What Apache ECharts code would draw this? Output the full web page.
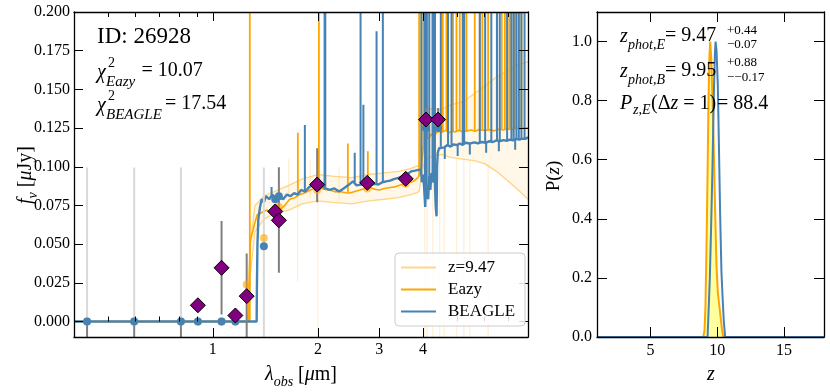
<!DOCTYPE html>
<html><head><meta charset="utf-8">
<script src="https://cdn.jsdelivr.net/npm/echarts@6/dist/echarts.min.js"></script>
<style>html,body{margin:0;padding:0;background:#fff}#c{width:830px;height:392px}</style>
</head><body><div id="c"></div>
<script>
// ---------------- DATA (wavelength in micron, flux in microJy) ----------------
const xMajorTicks = [1, 2, 3, 4];
const xMinorTicks = [0.4, 0.5, 0.6, 0.7, 0.8, 0.9, 5, 6, 7, 8];
const yTicks = [0, 0.025, 0.05, 0.075, 0.1, 0.125, 0.15, 0.175, 0.2];
const pzXTicks = [5, 10, 15];
const pzYTicks = [0, 0.2, 0.4, 0.6, 0.8, 1.0];

// BEAGLE model continuum
const beagleCont = [[0.40,0],[1.335,0],[1.337,0.02],[1.342,0.05],[1.35,0.066],[1.365,0.074],[1.38,0.079],[1.40,0.077],[1.42,0.081],[1.45,0.079],[1.48,0.082],[1.51,0.08],[1.55,0.081],[1.59,0.079],[1.63,0.082],[1.67,0.081],[1.71,0.083],[1.75,0.082],[1.79,0.085],[1.84,0.084],[1.89,0.087],[1.94,0.088],[1.99,0.086],[2.04,0.088],[2.10,0.086],[2.16,0.085],[2.23,0.086],[2.30,0.084],[2.37,0.086],[2.44,0.088],[2.52,0.0906],[2.58,0.088],[2.66,0.0885],[2.74,0.09],[2.82,0.088],[2.90,0.089],[2.98,0.0885],[3.06,0.09],[3.14,0.0906],[3.22,0.091],[3.30,0.092],[3.40,0.0928],[3.50,0.094],[3.60,0.095],[3.70,0.097],[3.80,0.0975],[3.88,0.098],[3.95,0.098],[3.97,0.09],[4.00,0.095],[4.03,0.087],[4.06,0.074],[4.08,0.09],[4.11,0.082],[4.14,0.079],[4.17,0.094],[4.20,0.085],[4.23,0.096],[4.26,0.09],[4.29,0.103],[4.32,0.095],[4.35,0.075],[4.375,0.068],[4.39,0.1],[4.41,0.109],[4.45,0.112],[4.50,0.113],[4.6,0.1125],[4.7,0.114],[4.8,0.113],[4.9,0.1145],[5.0,0.114],[5.1,0.115],[5.2,0.1142],[5.3,0.1155],[5.45,0.115],[5.6,0.1158],[5.75,0.1152],[5.9,0.116],[6.05,0.1155],[6.2,0.1165],[6.35,0.116],[6.5,0.117],[6.65,0.1165],[6.8,0.1172],[6.95,0.1168],[7.1,0.1175],[7.25,0.117],[7.4,0.118],[7.55,0.1175],[7.7,0.1182],[7.85,0.118],[8.0,0.119]];
// BEAGLE emission / absorption lines: [lambda, base, tip]
const beagleLines = [[1.473,0.08,0.087],[1.835,0.085,0.127],[2.09,0.087,0.2],[2.10,0.087,0.2],[2.55,0.09,0.109],[2.65,0.088,0.2],[2.70,0.0885,0.14],[2.945,0.0885,0.1875],[3.07,0.09,0.2],[3.96,0.098,0.2],[4.05,0.087,0.2],[4.10,0.085,0.2],[4.17,0.094,0.2],[4.26,0.09,0.2],[4.28,0.1,0.2],[4.33,0.095,0.2],[4.50,0.113,0.2],[4.72,0.114,0.2],[4.83,0.113,0.2],[5.20,0.1142,0.2],[5.25,0.1145,0.2],[5.82,0.1155,0.2],[6.03,0.1155,0.2],[6.28,0.116,0.2],[6.52,0.117,0.2],[6.64,0.1165,0.2],[6.97,0.1168,0.2],[7.17,0.1175,0.2],[7.28,0.117,0.2],[7.41,0.118,0.2],[7.53,0.1175,0.2],[7.66,0.1182,0.2],[7.82,0.118,0.2],[4.62,0.1125,0.105],[5.03,0.114,0.107],[5.45,0.115,0.108],[6.07,0.1155,0.109],[6.6,0.1165,0.11],[7.35,0.1175,0.111]];

// Eazy model continuum
const eazyCont = [[0.40,0],[1.268,0],[1.272,0.03],[1.28,0.052],[1.30,0.058],[1.32,0.064],[1.34,0.069],[1.38,0.0704],[1.43,0.072],[1.47,0.0705],[1.505,0.074],[1.55,0.072],[1.6,0.0745],[1.66,0.079],[1.72,0.08],[1.77,0.082],[1.83,0.083],[1.9,0.085],[1.99,0.0866],[2.08,0.0855],[2.16,0.085],[2.24,0.0838],[2.31,0.084],[2.4,0.0832],[2.47,0.083],[2.55,0.084],[2.64,0.085],[2.73,0.086],[2.82,0.0866],[2.91,0.0855],[3.0,0.085],[3.1,0.086],[3.22,0.0866],[3.32,0.087],[3.43,0.088],[3.55,0.089],[3.67,0.0898],[3.78,0.091],[3.87,0.093],[3.92,0.095],[3.98,0.105],[4.02,0.115],[4.08,0.12],[4.15,0.118],[4.22,0.121],[4.3,0.12],[4.38,0.122],[4.45,0.123],[4.55,0.1225],[4.65,0.1235],[4.75,0.122],[4.85,0.123],[4.95,0.1225],[5.05,0.1235],[5.2,0.1228],[5.35,0.1232],[5.5,0.1238],[5.65,0.123],[5.8,0.124],[6.0,0.1235],[6.2,0.124],[6.4,0.1232],[6.6,0.1242],[6.8,0.1238],[7.0,0.1245],[7.2,0.124],[7.4,0.125],[7.6,0.1245],[7.8,0.1252],[8.0,0.125]];
const eazyLines = [[1.276,0,0.2],[1.752,0.081,0.122],[2.013,0.086,0.2],[2.437,0.083,0.115],[2.78,0.086,0.11],[3.90,0.094,0.2],[3.96,0.1,0.2],[4.02,0.115,0.2],[4.06,0.118,0.2],[4.11,0.119,0.2],[4.33,0.12,0.2],[4.56,0.1225,0.2],[4.67,0.123,0.2],[4.88,0.123,0.2],[4.99,0.1225,0.2],[5.10,0.123,0.2],[5.33,0.123,0.2],[5.63,0.123,0.2],[5.82,0.124,0.2],[5.92,0.124,0.2],[6.15,0.124,0.2],[6.51,0.124,0.2],[6.73,0.124,0.2],[6.87,0.124,0.2],[7.00,0.1245,0.2],[7.10,0.1245,0.2],[7.33,0.125,0.2],[7.53,0.1245,0.2],[7.66,0.125,0.2]];

// z=9.47 template spread (upper / lower envelope) and faint lines
const zLam   = [0.40,1.26,1.28,1.32,1.40,1.50,1.65,1.80,2.00,2.20,2.50,2.80,3.10,3.40,3.70,3.90,4.00,4.10,4.30,4.50,4.80,5.20,5.60,6.00,6.50,7.00,7.50,8.00];
const zUpper = [0,0,0.05,0.075,0.081,0.084,0.088,0.092,0.095,0.094,0.093,0.095,0.096,0.097,0.099,0.101,0.13,0.138,0.137,0.137,0.14,0.142,0.147,0.152,0.158,0.162,0.166,0.168];
const zLower = [0,0,0.03,0.058,0.066,0.07,0.072,0.076,0.078,0.077,0.076,0.078,0.079,0.08,0.082,0.084,0.1,0.105,0.107,0.108,0.106,0.105,0.104,0.102,0.097,0.091,0.085,0.079];
const zLines = [[1.65,0.08,0.105],[1.75,0.026,0.1],[1.9,0.08,0.104],[2.0,-0.02,0.095],[2.3,0.078,0.1],[4.05,-0.02,0.1],[4.11,-0.02,0.105],[4.27,-0.02,0.107],[4.47,-0.02,0.108],[4.6,-0.02,0.107],[5.0,-0.02,0.105],[5.24,-0.02,0.105],[5.45,-0.02,0.104],[6.15,-0.02,0.102]];

// photometry
const obsPhot = [[0.906,0.0105],[1.059,0.0347],[1.16,0.0039],[1.25,0.0164],[1.509,0.0711],[1.546,0.0654],[1.99,0.0885],[2.77,0.0896],[3.57,0.0922],[4.08,0.1305],[4.42,0.1305]];
const errDark = [[1.059,0.0045,0.065],[1.25,-0.02,0.044],[1.546,0.0315,0.0997],[1.99,0.077,0.112],[2.77,0.086,0.093],[3.57,0.089,0.096],[4.08,0.1227,0.138],[4.42,0.1227,0.138],[0.436,-0.02,0],[0.595,-0.02,0],[0.81,-0.02,0],[0.906,0.007,0.014],[1.16,0.001,0.007],[1.509,0.066,0.076]];
const errLight = [[0.436,0,0.0995],[0.595,0,0.0995],[0.81,0,0.0995],[1.40,-0.02,0.0995]];
const eazyPhot = [[0.436,0],[0.595,0],[0.81,0],[0.906,0],[1.059,0],[1.16,0],[1.25,0.024],[1.40,0.054],[1.509,0.073],[1.546,0.074],[1.99,0.085],[2.77,0.086],[3.57,0.089],[4.08,0.127],[4.42,0.128]];
const beaglePhot = [[0.436,0],[0.595,0],[0.81,0],[0.906,0],[1.059,0],[1.16,0],[1.40,0.0487],[1.509,0.079],[1.546,0.081],[1.99,0.087],[2.77,0.089],[3.57,0.093],[4.08,0.125],[4.42,0.125]];

// P(z)
const pzEazy = [[1,0],[8.95,0],[9.05,0.02],[9.12,0.1],[9.2,0.3],[9.28,0.55],[9.35,0.8],[9.42,0.95],[9.48,1.0],[9.56,0.94],[9.65,0.8],[9.75,0.63],[9.85,0.42],[9.95,0.24],[10.05,0.15],[10.15,0.11],[10.25,0.07],[10.35,0.03],[10.45,0],[18,0]];
const pzBeagle = [[1,0],[9.28,0],[9.35,0.08],[9.45,0.2],[9.55,0.38],[9.65,0.58],[9.75,0.82],[9.83,0.96],[9.88,1.0],[9.95,0.97],[10.05,0.85],[10.13,0.65],[10.22,0.42],[10.32,0.22],[10.42,0.12],[10.5,0.05],[10.6,0],[18,0]];

// ---------------- BUILD ----------------
const L = v => Math.log10(v);
const pts = arr => arr.map(p => [L(p[0]), p[1]]);
const segs = arr => { const o = []; arr.forEach(p => { o.push([L(p[0]), p[1]], [L(p[0]), p[2]], ['-','-']); }); return o; };
const FONT = "'Liberation Serif','Times New Roman',serif";
const ORANGE = '#FFA500', BLUE = '#4682B4', PURPLE = '#800080';
const ZCOL = 'rgba(255,165,0,0.45)';

const zUp = zLam.map((l,i) => [L(l), zUpper[i]]);
const zLo = zLam.map((l,i) => [L(l), zLower[i]]);

function lineS(name, data, color, width, z, extra) {
  return Object.assign({ name, type:'line', data, color, xAxisIndex:0, yAxisIndex:0, symbol:'none', showSymbol:false, z,
    lineStyle:{color, width}, itemStyle:{color}, connectNulls:false, clip:true, silent:true, animation:false }, extra||{});
}
function T(x, y, text, size, italic, extra) {
  return { type:'text', x, y, silent:true, z:100,
    style: Object.assign({ text, fontSize:size, fontFamily:FONT, fontStyle: italic?'italic':'normal', fill:'#000',
      align:'left', textAlign:'left', verticalAlign:'middle', textVerticalAlign:'middle' }, extra||{}) };
}

const axLine = {show:true, onZero:false, lineStyle:{color:'#000', width:1.3}};
const tickStyle = {color:'#000', width:1};
const lbl = {color:'#000', fontFamily:FONT, fontSize:16};
const Lmin = L(0.4), Lmax = L(8);

const option = {
  animation:false,
  backgroundColor:'#fff',
  grid:[
    {left:74, top:12, width:454, height:325},
    {left:74, top:12, width:454, height:325},
    {left:597, top:12, width:227, height:325}
  ],
  xAxis:[
    {gridIndex:0, z:30, type:'value', position:'bottom', min:Lmin, max:Lmax, axisLine:axLine, splitLine:{show:false},
     axisTick:{inside:true, length:9, lineStyle:tickStyle, customValues:xMajorTicks.map(L)},
     axisLabel:Object.assign({margin:5, customValues:xMajorTicks.map(L), formatter:v => String(Math.round(Math.pow(10,v)))}, lbl)},
    {gridIndex:0, z:30, type:'value', position:'top', min:Lmin, max:Lmax, axisLine:axLine, splitLine:{show:false},
     axisTick:{inside:true, length:9, lineStyle:tickStyle, customValues:xMajorTicks.map(L)}, axisLabel:{show:false}},
    {gridIndex:1, z:30, type:'value', position:'bottom', min:Lmin, max:Lmax, axisLine:{show:false}, splitLine:{show:false},
     axisTick:{inside:true, length:5, lineStyle:tickStyle, customValues:xMinorTicks.map(L)}, axisLabel:{show:false}},
    {gridIndex:1, z:30, type:'value', position:'top', min:Lmin, max:Lmax, axisLine:{show:false}, splitLine:{show:false},
     axisTick:{inside:true, length:5, lineStyle:tickStyle, customValues:xMinorTicks.map(L)}, axisLabel:{show:false}},
    {gridIndex:2, z:30, type:'value', position:'bottom', min:1, max:18, axisLine:axLine, splitLine:{show:false},
     axisTick:{inside:true, length:10, lineStyle:tickStyle, customValues:pzXTicks},
     axisLabel:Object.assign({margin:6, customValues:pzXTicks}, lbl)},
    {gridIndex:2, z:30, type:'value', position:'top', min:1, max:18, axisLine:axLine, splitLine:{show:false},
     axisTick:{inside:true, length:10, lineStyle:tickStyle, customValues:pzXTicks}, axisLabel:{show:false}}
  ],
  yAxis:[
    {gridIndex:0, z:30, type:'value', position:'left', min:-0.01, max:0.2, axisLine:axLine, splitLine:{show:false},
     axisTick:{inside:true, length:9, lineStyle:tickStyle, customValues:yTicks},
     axisLabel:Object.assign({margin:4, customValues:yTicks, formatter:v => v.toFixed(3)}, lbl)},
    {gridIndex:0, z:30, type:'value', position:'right', min:-0.01, max:0.2, axisLine:axLine, splitLine:{show:false},
     axisTick:{inside:true, length:9, lineStyle:tickStyle, customValues:yTicks}, axisLabel:{show:false}},
    {gridIndex:1, type:'value', min:-0.01, max:0.2, show:false},
    {gridIndex:2, z:30, type:'value', position:'left', min:0, max:1.1, axisLine:axLine, splitLine:{show:false},
     axisTick:{inside:true, length:10, lineStyle:tickStyle, customValues:pzYTicks},
     axisLabel:Object.assign({margin:5, customValues:pzYTicks, formatter:v => v.toFixed(1)}, lbl)},
    {gridIndex:2, z:30, type:'value', position:'right', min:0, max:1.1, axisLine:axLine, splitLine:{show:false},
     axisTick:{inside:true, length:10, lineStyle:tickStyle, customValues:pzYTicks}, axisLabel:{show:false}}
  ],
  legend:{
    data:['z=9.47','Eazy','BEAGLE'], orient:'vertical', left:395, top:253, icon:'rect', z:40,
    itemWidth:35, itemHeight:2, itemGap:5, padding:[6,10,6,6],
    backgroundColor:'rgba(255,255,255,0.85)', borderColor:'#cccccc', borderWidth:1, borderRadius:4,
    textStyle:{fontFamily:FONT, fontSize:17, color:'#000', padding:[0,0,0,7]}, selectedMode:false
  },
  series:[
    lineS('zFillUp', zUp, 'rgba(0,0,0,0)', 0, 1, {lineStyle:{width:0, opacity:0}, areaStyle:{color:'rgba(255,165,0,0.13)', origin:'start'}}),
    lineS('zFillLow', zLo, 'rgba(0,0,0,0)', 0, 2, {lineStyle:{width:0, opacity:0}, areaStyle:{color:'#ffffff', opacity:1, origin:'start'}}),
    lineS('z=9.47', zUp, ZCOL, 1.3, 3),
    lineS('zLow', zLo, ZCOL, 1.3, 3),
    lineS('zLines', segs(zLines), 'rgba(255,165,0,0.22)', 1, 3),
    lineS('Eazy', pts(eazyCont), ORANGE, 1.6, 4),
    lineS('Eazy', segs(eazyLines), ORANGE, 1.8, 4),
    lineS('BEAGLE', pts(beagleCont), BLUE, 2.4, 5),
    lineS('BEAGLE', segs(beagleLines), BLUE, 2, 5),
    lineS('errLight', segs(errLight), '#d9d9d9', 2, 6),
    lineS('errDark', segs(errDark), '#808080', 2, 7),
    {name:'eazyPhot', type:'scatter', xAxisIndex:0, yAxisIndex:0, data:pts(eazyPhot), symbol:'circle', symbolSize:8, z:8,
     itemStyle:{color:'rgba(255,165,0,0.6)', opacity:1}, silent:true, clip:true},
    {name:'beaglePhot', type:'scatter', xAxisIndex:0, yAxisIndex:0, data:pts(beaglePhot), symbol:'circle', symbolSize:8, z:9,
     itemStyle:{color:BLUE, opacity:1}, silent:true, clip:true},
    {name:'obs', type:'scatter', xAxisIndex:0, yAxisIndex:0, data:pts(obsPhot), symbol:'diamond', symbolSize:[15,15], z:10,
     itemStyle:{color:PURPLE, borderColor:'#000', borderWidth:1, opacity:1}, silent:true, clip:true},
    {name:'pzE', type:'line', xAxisIndex:4, yAxisIndex:3, data:pzEazy, symbol:'none', color:ORANGE, z:4,
     lineStyle:{color:ORANGE, width:2}, areaStyle:{color:'rgba(255,255,0,0.55)'}, silent:true},
    {name:'pzB', type:'line', xAxisIndex:4, yAxisIndex:3, data:pzBeagle, symbol:'none', color:BLUE, z:5,
     lineStyle:{color:BLUE, width:2}, silent:true}
  ],
  graphic:{elements:[
    T(97, 37, 'ID: 26928', 23, false),
    T(97, 73, 'χ', 20, true),
    T(108, 63, '2', 14, false),
    T(106, 82, 'Eazy', 15, true),
    T(141.5, 71, '= 10.07', 20, false),
    T(97, 106, 'χ', 20, true),
    T(108, 96, '2', 14, false),
    T(106, 115, 'BEAGLE', 15, true),
    T(165, 104, '= 17.54', 20, false),

    T(620, 37, 'z', 20, true),
    T(628, 45, 'phot,E', 14, true),
    T(665, 36, '= 9.47', 20, false),
    T(727, 31, '+0.44', 13, false),
    T(727, 45, '−0.07', 13, false),
    T(620, 72, 'z', 20, true),
    T(628, 80, 'phot,B', 14, true),
    T(665, 71, '= 9.95', 20, false),
    T(727, 63, '+0.88', 13, false),
    T(727, 78, '−−0.17', 13, false),
    T(620, 104, 'P', 20, true),
    T(633, 110, 'z,E', 14, true),
    T(651, 104, '(Δ{i|z} = 1)', 20, false, {rich:{i:{fontStyle:'italic', fontSize:20, fontFamily:FONT}}}),
    T(717, 104, '= 88.4', 20, false),

    T(26, 175, '{i|f}{s|ν} [{i|μ}Jy]', 20, false, {align:'center', textAlign:'center',
      rich:{i:{fontStyle:'italic', fontSize:20, fontFamily:FONT, lineHeight:28}, s:{fontStyle:'italic', fontSize:14, fontFamily:FONT, verticalAlign:'bottom', lineHeight:28}}}),
    T(301, 375, '{i|λ}{s|obs} [{i|μ}m]', 20, false, {align:'center', textAlign:'center',
      rich:{i:{fontStyle:'italic', fontSize:20, fontFamily:FONT, lineHeight:28}, s:{fontStyle:'italic', fontSize:14, fontFamily:FONT, verticalAlign:'bottom', lineHeight:28}}}),
    T(554, 176, 'P({i|z})', 19, false, {align:'center', textAlign:'center', rich:{i:{fontStyle:'italic', fontSize:19, fontFamily:FONT}}}),
    T(711, 375, 'z', 20, true, {align:'center', textAlign:'center'})
  ]}
};
option.graphic.elements[option.graphic.elements.length-4].rotation = Math.PI/2;
option.graphic.elements[option.graphic.elements.length-2].rotation = Math.PI/2;

const chart = echarts.init(document.getElementById('c'), null, {renderer:'canvas'});
chart.setOption(option);
</script></body></html>
